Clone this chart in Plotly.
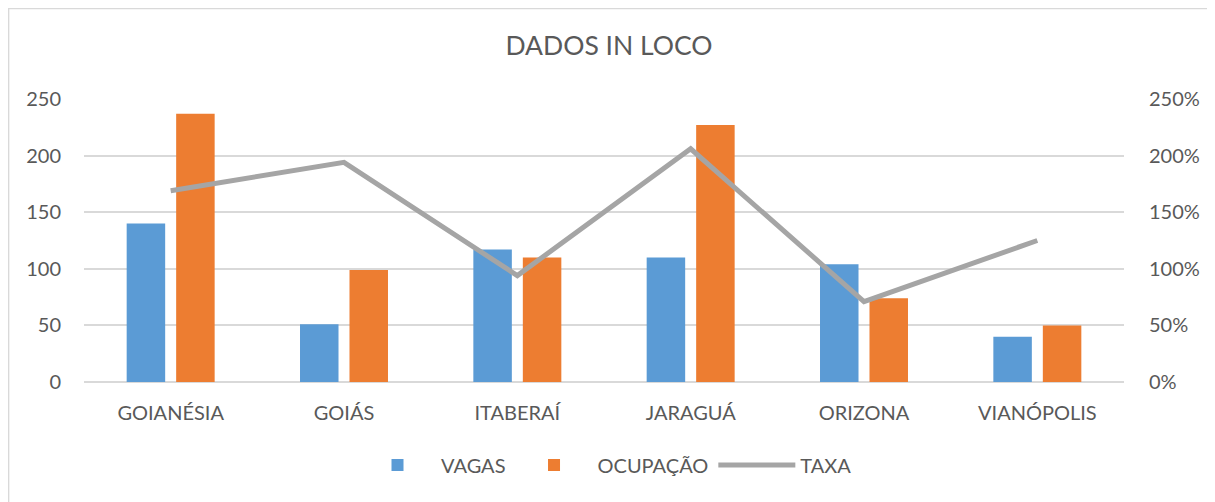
import plotly.graph_objects as go

# Page body has an 8px margin; figure coordinates = screen pixel - 8
OFF = 8
W, H = 1215 - OFF, 502 - OFF

categories = ["GOIANÉSIA", "GOIÁS", "ITABERAÍ", "JARAGUÁ", "ORIZONA", "VIANÓPOLIS"]
vagas = [140, 51, 117, 110, 104, 40]
ocupacao = [237, 99, 110, 227, 74, 50]
taxa = [1.69, 1.94, 0.94, 2.06, 0.71, 1.25]

left_ticks = [0, 50, 100, 150, 200, 250]
right_ticks = [0, 0.5, 1.0, 1.5, 2.0, 2.5]

FONT = "Lato"
TXT = "#595959"
GRID = "#d9d9d9"
FS = 20


def px_x(p):
    return (p - OFF) / W


def px_y(p):
    return 1 - (p - OFF) / H


fig = go.Figure()
fig.add_trace(go.Bar(x=categories, y=vagas, name="VAGAS", marker=dict(color="#5b9bd5", line=dict(width=0))))
fig.add_trace(go.Bar(x=categories, y=ocupacao, name="OCUPAÇÃO", marker=dict(color="#ed7d31", line=dict(width=0))))
fig.add_trace(go.Scatter(x=categories, y=taxa, name="TAXA", mode="lines", yaxis="y2",
                         line=dict(color="#a5a5a5", width=5)))

fig.update_layout(
    width=W, height=H,
    margin=dict(l=0, r=0, t=0, b=0, autoexpand=False),
    paper_bgcolor="white", plot_bgcolor="white",
    font=dict(family=FONT, color=TXT, size=FS),
    title=dict(text="DADOS IN LOCO", x=px_x(609), xanchor="center", y=px_y(46), yanchor="middle",
               font=dict(family=FONT, size=26.5, color=TXT)),
    barmode="group", bargap=0.429, bargroupgap=0.222,
    xaxis=dict(domain=[px_x(84), px_x(1124)], showgrid=False, showline=False, ticks="", ticklen=0,
               automargin=False, tickfont=dict(size=FS, color=TXT), ticklabelstandoff=17),
    yaxis=dict(domain=[px_y(382), px_y(99)], range=[0, 250], tickvals=left_ticks, showgrid=True,
               gridcolor=GRID, gridwidth=1.5, zeroline=True, zerolinecolor=GRID, zerolinewidth=1.5,
               showline=False, automargin=False, tickfont=dict(size=FS, color=TXT), ticklabelstandoff=22),
    yaxis2=dict(overlaying="y", side="right", range=[0, 2.5], tickvals=right_ticks, tickformat=".0%",
                showgrid=False, zeroline=False, showline=False, automargin=False,
                tickfont=dict(size=FS, color=TXT), ticklabelstandoff=24),
    legend=dict(orientation="h", x=px_x(354), xanchor="left", y=px_y(465), yanchor="middle",
                font=dict(size=FS, color=TXT), itemwidth=77, traceorder="normal"),
    shapes=[dict(type="rect", xref="paper", yref="paper", x0=0.6 / W, x1=1.02, y0=-0.02, y1=1 - 0.6 / H,
                 line=dict(color=GRID, width=1.5), fillcolor="rgba(0,0,0,0)", layer="below")],
)

fig.write_html("out.html")
